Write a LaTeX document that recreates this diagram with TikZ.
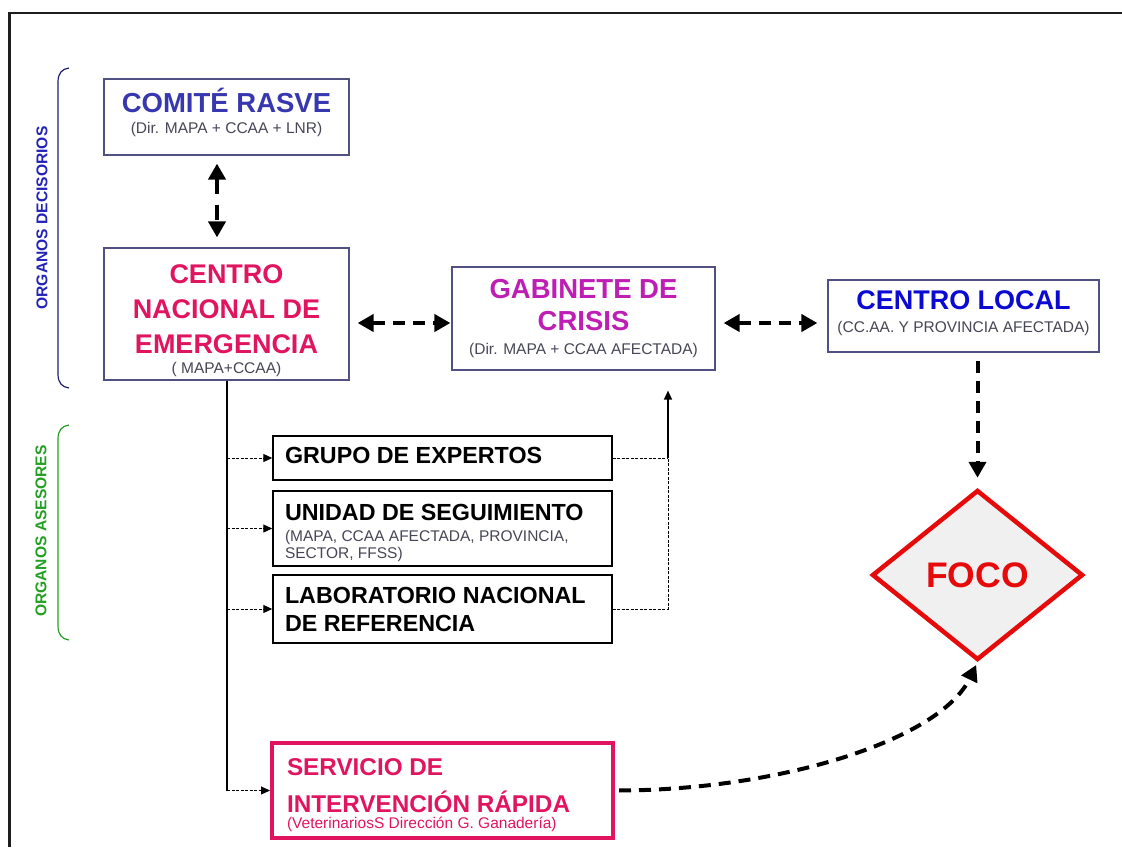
\documentclass[tikz,border=0pt]{standalone}
\usepackage{fontspec}
\setmainfont{Liberation Sans}
\usetikzlibrary{arrows.meta,shapes.geometric,calc}

\definecolor{framegray}{RGB}{30,30,30}
\definecolor{boxline}{RGB}{80,80,130}
\definecolor{rasveblue}{RGB}{55,55,175}
\definecolor{localblue}{RGB}{10,10,210}
\definecolor{crimson}{RGB}{225,20,95}
\definecolor{gabmag}{RGB}{190,30,180}
\definecolor{subgray}{RGB}{70,70,85}
\definecolor{decblue}{RGB}{35,35,185}
\definecolor{bracenavy}{RGB}{30,30,110}
\definecolor{asegreen}{RGB}{35,160,35}
\definecolor{focored}{RGB}{230,10,10}
\definecolor{focofill}{RGB}{240,240,240}

\newcommand\subfnt{\fontsize{15.5}{18}\selectfont\mdseries}

\begin{document}
\begin{tikzpicture}[x=1pt,y=-1pt,
  orgbox/.style={draw=boxline, line width=1.2pt, rectangle, inner sep=0pt, fill=white, align=center},
  advbox/.style={draw=black, line width=1.4pt, rectangle, inner ysep=0pt, inner xsep=12pt,
                 minimum width=339pt, text width=315pt, align=flush left},
  bigtip/.tip={Triangle[length=16pt,width=17pt]},
  smalltip/.tip={Triangle[length=9pt,width=8pt]},
  bigarrow/.style={line width=4pt, dash pattern=on 12pt off 8pt, -bigtip},
  bigboth/.style={line width=4pt, dash pattern=on 12pt off 8pt, bigtip-bigtip},
  thinarrow/.style={line width=1pt, dash pattern=on 3pt off 1.5pt, -smalltip},
  thindash/.style={line width=1pt, dash pattern=on 3pt off 1.5pt},
  trunk/.style={line width=1.5pt},
  sidelabel/.style={rotate=90, font=\fontsize{15.6}{18}\selectfont\bfseries},
  bracket/.style={line width=1.2pt}
]
\useasboundingbox (0,0) rectangle (1122,847);

% frame
\draw[line width=2.5pt, framegray] (9.7,847) -- (9.7,13) -- (1122,13);

% side brackets and labels
\draw[bracket, bracenavy] (69,68) .. controls (62,69) and (58,73) .. (58,82) -- (58,374) .. controls (58,383) and (62,387) .. (69,388);
\node[sidelabel, text=decblue] (dec) at (42,218) {ORGANOS DECISORIOS};
\draw[bracket, asegreen] (69,425) .. controls (62,426) and (58,430) .. (58,439) -- (58,626) .. controls (58,635) and (62,639) .. (69,640);
\node[sidelabel, text=asegreen] (ase) at (41,531) {ORGANOS ASESORES};

% decision bodies
\node[orgbox, minimum width=245pt, minimum height=76pt, font=\fontsize{27.5}{21}\selectfont\bfseries] (comite) at (226.5,117)
  {\textcolor{rasveblue}{COMITÉ RASVE}\\{\subfnt\color{subgray}(Dir. MAPA + CCAA + LNR)\rule[-11.8pt]{0pt}{11.8pt}}};

\node[orgbox, minimum width=245pt, minimum height=132pt, font=\fontsize{27}{35}\selectfont\bfseries, text=crimson] (cne) at (226.5,314)
  {\rule{0pt}{31.3pt}CENTRO\\NACIONAL DE\\EMERGENCIA\\[-15pt]{\subfnt\color{subgray}( MAPA+CCAA)}};

\node[orgbox, minimum width=263pt, minimum height=103pt, font=\fontsize{27.5}{32}\selectfont\bfseries, text=gabmag] (gab) at (583.5,318.5)
  {GABINETE DE\\CRISIS\\[-8pt]{\subfnt\color{subgray}(Dir. MAPA + CCAA AFECTADA)}};

\node[orgbox, minimum width=271pt, minimum height=72pt, font=\fontsize{27}{23}\selectfont\bfseries, text=localblue] (local) at (963.5,316)
  {CENTRO LOCAL\\{\subfnt\color{subgray}(CC.AA. Y PROVINCIA AFECTADA)\rule[-8pt]{0pt}{8pt}}};

\node[diamond, draw=focored, line width=4.5pt, fill=focofill, minimum width=211pt, minimum height=170pt, inner sep=0pt,
      text=focored, font=\fontsize{35.5}{40}\selectfont\bfseries] (foco) at (977.5,575) {FOCO};

% advisory bodies
\node[advbox, minimum height=44pt, font=\fontsize{23.3}{28}\selectfont\bfseries] (grupo) at (442.5,458)
  {GRUPO DE EXPERTOS\rule[-5pt]{0pt}{5pt}};
\node[advbox, minimum height=75pt, font=\fontsize{23.3}{21}\selectfont\bfseries] (unidad) at (442.5,528.5)
  {\rule{0pt}{24.3pt}UNIDAD DE SEGUIMIENTO\\{\subfnt\color{subgray}(MAPA, CCAA AFECTADA, PROVINCIA,}\\[-4pt]{\subfnt\color{subgray}SECTOR, FFSS)}};
\node[advbox, minimum height=68pt, font=\fontsize{23.3}{28}\selectfont\bfseries] (lab) at (442.5,609)
  {LABORATORIO NACIONAL\\DE REFERENCIA};

% rapid intervention service
\node[draw=crimson, line width=4pt, rectangle, inner ysep=0pt, inner xsep=15pt, minimum width=341pt, text width=311pt,
      minimum height=95pt, align=flush left, text=crimson, font=\fontsize{24.3}{37}\selectfont\bfseries] (sir) at (442.5,790.5)
  {\rule{0pt}{25.3pt}SERVICIO DE\\INTERVENCIÓN RÁPIDA\\[-21pt]{\subfnt(VeterinariosS Dirección G. Ganadería)}};

% connectors
\coordinate (row) at (0,323);
\draw[line width=4pt, dash pattern=on 15pt off 11pt, bigtip-bigtip, shorten <=8pt, shorten >=10pt]
  ([xshift=-9.5pt]comite.south) -- ([xshift=-9.5pt]cne.north);
\draw[bigboth, shorten <=8pt, shorten >=1pt] (cne.east |- row) -- (gab.west |- row);
\draw[bigboth, shorten <=8pt, shorten >=10pt] (gab.east |- row) -- (local.west |- row);
\draw[bigarrow, shorten <=8pt, shorten >=10pt] (local.south -| foco.north) -- (foco.north);

\coordinate (tx) at (227,0);
\draw[trunk] (tx |- cne.south) -- (tx |- sir.west);
\draw[thinarrow] (tx |- grupo.west) -- (grupo.west);
\draw[thinarrow] (tx |- unidad.west) -- (unidad.west);
\draw[thinarrow] (tx |- lab.west) -- (lab.west);
\draw[thinarrow] (tx |- sir.west) -- (sir.west);

\coordinate (rx) at (668,0);
\draw[thindash] (grupo.east) -- (rx |- grupo.east);
\draw[thindash] (lab.east) -- (rx |- lab.east) -- (rx |- grupo.east);
\draw[trunk, -smalltip, shorten >=20pt] (rx |- grupo.east) -- (rx |- gab.south);

\draw[bigarrow, shorten <=4pt, shorten >=3pt] (sir.east) .. controls (780,790) and (940,740) .. (foco.south);
\end{tikzpicture}
\end{document}
